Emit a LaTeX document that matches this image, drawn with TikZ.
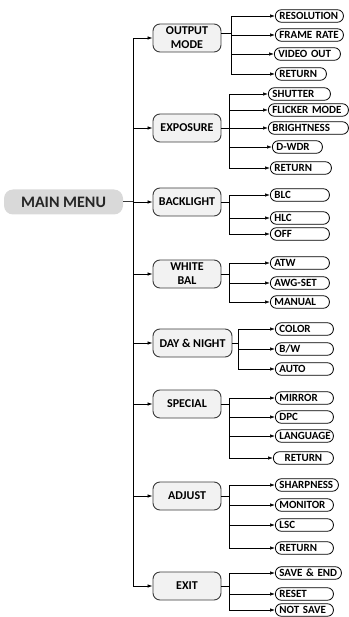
\documentclass[tikz,border=0pt]{standalone}
\usepackage{fontspec}
\setmainfont{Carlito}
\usetikzlibrary{arrows.meta}

\definecolor{mmgray}{HTML}{D9D9D9}
\definecolor{catgray}{HTML}{F2F2F2}
\definecolor{linegray}{HTML}{3A3A3A}

\begin{document}
\begin{tikzpicture}[x=1pt,y=1pt]
\tikzstyle{every node}+=[inner sep=0pt]
\tikzstyle{mainbox}=[fill=mmgray, rounded corners=9pt, minimum width=119pt, minimum height=25pt, font=\fontsize{16}{18}\selectfont\bfseries, text=black!85]
\tikzstyle{cat}=[draw=linegray, line width=0.9pt, fill=catgray, rounded corners=7pt, minimum width=68pt, minimum height=28pt, align=center, font=\fontsize{12}{14}\selectfont\bfseries]
\tikzstyle{leaf}=[draw=black, line width=0.8pt, fill=white, rounded corners=6pt, anchor=west, minimum height=12.5pt, inner xsep=4pt, align=left, font=\fontsize{11}{12}\selectfont\bfseries]
\tikzstyle{link}=[draw=black, line width=0.7pt]
\tikzstyle{arrow}=[link, -{Latex[length=5pt,width=3.5pt]}]
\useasboundingbox (0,0) rectangle (348,-617);
% main menu and trunk
\node [mainbox] (mm) at (63.5,-202) {MAIN MENU};
\coordinate (mt) at (133,-202);
% categories
\node [cat] (om) at (187,-38) {OUTPUT\\MODE};
\node [cat] (ex) at (187,-128) {EXPOSURE};
\node [cat] (bl) at (187,-202) {BACKLIGHT};
\node [cat] (wb) at (187,-274) {WHITE\\BAL};
\node [cat, minimum width=79pt] (dn) at (192.5,-343) {DAY \& NIGHT};
\node [cat] (sp) at (187,-404) {SPECIAL};
\node [cat] (ad) at (187,-496) {ADJUST};
\node [cat] (et) at (187,-586) {EXIT};
% output mode
\node [leaf, text width=60pt] (res) at (275,-16) {RESOLUTION};
\node [leaf, text width=60pt] (fr) at (275,-35) {FRAME RATE};
\node [leaf, text width=58pt] (vo) at (274,-54) {VIDEO OUT};
\node [leaf, text width=43pt] (omr) at (275,-74) {RETURN};
% exposure
\node [leaf, text width=54pt] (sh) at (268,-94) {SHUTTER};
\node [leaf, text width=72pt] (fm) at (268,-110) {FLICKER MODE};
\node [leaf, text width=72pt] (br) at (268,-128) {BRIGHTNESS};
\node [leaf, text width=42pt] (dw) at (272,-147) {D-WDR};
\node [leaf, text width=53pt] (exr) at (270,-168) {RETURN};
% backlight
\node [leaf, text width=51pt] (blc) at (270,-195) {BLC};
\node [leaf, text width=51pt] (hlc) at (270,-218) {HLC};
\node [leaf, text width=51pt] (off) at (270,-234) {OFF};
% white bal
\node [leaf, text width=51pt] (atw) at (270,-263) {ATW};
\node [leaf, text width=51pt] (awg) at (270,-283) {AWG-SET};
\node [leaf, text width=51pt] (man) at (270,-302) {MANUAL};
% day & night
\node [leaf, text width=50pt] (col) at (275,-329) {COLOR};
\node [leaf, text width=50pt] (bw) at (275,-349) {B/W};
\node [leaf, text width=50pt] (aut) at (275,-369) {AUTO};
% special
\node [leaf, text width=50pt] (mir) at (275,-398) {MIRROR};
\node [leaf, text width=50pt] (dpc) at (275,-417) {DPC};
\node [leaf, text width=50pt] (lan) at (275,-436) {LANGUAGE};
\node [leaf, text width=52pt, align=center] (spr) at (273,-458) {RETURN};
% adjust
\node [leaf, text width=55pt] (shp) at (275,-485) {SHARPNESS};
\node [leaf, text width=50pt] (mon) at (275,-505) {MONITOR};
\node [leaf, text width=50pt] (lsc) at (275,-525) {LSC};
\node [leaf, text width=50pt] (adr) at (275,-548) {RETURN};
% exit
\node [leaf, text width=58pt] (sae) at (275,-573) {SAVE \& END};
\node [leaf, text width=50pt] (rst) at (275,-594) {RESET};
\node [leaf, text width=50pt] (nsv) at (275,-610) {NOT SAVE};
% sub trunks
\coordinate (oms) at (231,-33);
\coordinate (exs) at (229,-128);
\coordinate (bls) at (229,-202);
\coordinate (wbs) at (229,-274);
\coordinate (dns) at (238,-343);
\coordinate (sps) at (229,-404);
\coordinate (ads) at (229,-496);
\coordinate (ets) at (229,-586);
% main trunk links
\draw [link, line width=1pt, draw=linegray] (mm.east) -- (mt);
\draw [arrow] (mt) |- (om.west);
\draw [arrow] (mt) |- (ex.west);
\draw [arrow] (mt) |- (bl.west);
\draw [arrow] (mt) |- (wb.west);
\draw [arrow] (mt) |- (dn.west);
\draw [arrow] (mt) |- (sp.west);
\draw [arrow] (mt) |- (ad.west);
\draw [arrow] (mt) |- (et.west);
% output mode links
\draw [link] (om.east |- oms) -- (oms);
\draw [arrow] (oms) |- (res.west);
\draw [arrow] (oms) |- (fr.west);
\draw [arrow] (oms) |- (vo.west);
\draw [arrow] (oms) |- (omr.west);
% exposure links
\draw [link] (ex.east) -- (exs);
\draw [arrow] (exs) |- (sh.west);
\draw [arrow] (exs) |- (fm.west);
\draw [arrow] (exs) |- (br.west);
\draw [arrow] (exs) |- (dw.west);
\draw [arrow] (exs) |- (exr.west);
% backlight links
\draw [link] (bl.east) -- (bls);
\draw [arrow] (bls) |- (blc.west);
\draw [arrow] (bls) |- (hlc.west);
\draw [arrow] (bls) |- (off.west);
% white bal links
\draw [link] (wb.east) -- (wbs);
\draw [arrow] (wbs) |- (atw.west);
\draw [arrow] (wbs) |- (awg.west);
\draw [arrow] (wbs) |- (man.west);
% day & night links
\draw [link] (dn.east) -- (dns);
\draw [arrow] (dns) |- (col.west);
\draw [arrow] (dns) |- (bw.west);
\draw [arrow] (dns) |- (aut.west);
% special links
\draw [link] (sp.east) -- (sps);
\draw [arrow] (sps) |- (mir.west);
\draw [arrow] (sps) |- (dpc.west);
\draw [arrow] (sps) |- (lan.west);
\draw [arrow] (sps) |- (spr.west);
% adjust links
\draw [link] (ad.east) -- (ads);
\draw [arrow] (ads) |- (shp.west);
\draw [arrow] (ads) |- (mon.west);
\draw [arrow] (ads) |- (lsc.west);
\draw [arrow] (ads) |- (adr.west);
% exit links
\draw [link] (et.east) -- (ets);
\draw [arrow] (ets) |- (sae.west);
\draw [arrow] (ets) |- (rst.west);
\draw [arrow] (ets) |- (nsv.west);
\end{tikzpicture}
\end{document}
